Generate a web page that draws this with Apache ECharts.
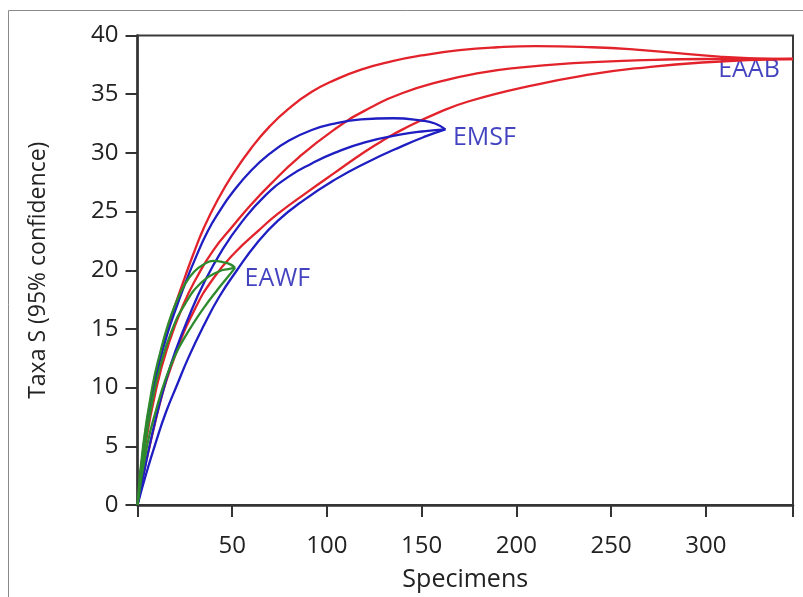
<!DOCTYPE html>
<html>
<head>
<meta charset="utf-8">
<script src="https://cdn.jsdelivr.net/npm/echarts@6/dist/echarts.min.js"></script>
<style>
html,body{margin:0;padding:0;background:#fff;}
#c{width:803px;height:597px;}
</style>
</head>
<body>
<div id="c"></div>
<script>
// EAAB (red): upper 95% bound, mean, lower 95% bound
const eaabUpper = [[0,0],[4,6],[8,9.8],[12,12.8],[16,15.1],[20,17.1],[25,19.4],[30,21.6],[35,23.6],[42,25.9],[50,28.1],[60,30.4],[70,32.3],[80,33.8],[92,35.2],[104,36.2],[118,37.1],[134,37.8],[150,38.3],[170,38.75],[190,39],[210,39.1],[240,39],[263,38.8],[285,38.5],[307,38.2],[325,38.05],[346,38]];
const eaabMean  = [[0,0],[4,5],[10,10],[16,13.5],[24,17],[32,19.6],[40,21.7],[50,23.7],[60,25.6],[70,27.3],[85,29.6],[104,32],[120,33.6],[140,35.1],[160,36.1],[180,36.8],[200,37.25],[230,37.65],[263,37.88],[300,38],[346,38]];
const eaabLower = [[0,0],[10,7.5],[20,12.8],[30,16.6],[40,19.3],[52,21.6],[64,23.4],[74,24.8],[90,26.7],[104,28.3],[120,30.1],[131,31.2],[140,32],[157,33.3],[175,34.4],[210,35.8],[240,36.7],[263,37.2],[298,37.7],[346,38]];
// EMSF (blue)
const emsfUpper = [[0,0],[4,5.8],[8,9.5],[12,12.4],[16,14.7],[20,16.6],[25,18.8],[30,20.8],[37,23.3],[44,25.2],[50,26.6],[60,28.5],[70,29.95],[80,31.05],[92,31.95],[104,32.5],[118,32.85],[135,32.95],[150,32.75],[157,32.5],[162.5,32]];
const emsfMean  = [[0,0],[5,4],[10,7.6],[15,10.6],[20,13.1],[27,16],[35,18.9],[45,21.8],[55,24.1],[67,26.3],[80,28],[92,29.1],[104,30],[120,30.9],[140,31.6],[152,31.85],[162.5,32]];
const emsfLower = [[0,0],[5,2.9],[10,5.5],[15,7.9],[20.8,10.2],[27,12.6],[34.7,15.2],[43,17.7],[52.5,20],[63,22.3],[74,24.2],[88,26],[104,27.7],[120,29.1],[140,30.6],[152,31.4],[162.5,32]];
// EAWF (green)
const eawfUpper = [[0,0],[3,5.1],[8,10.2],[12,13],[16,15.3],[20,17.1],[25,18.8],[30,19.9],[35,20.5],[40,20.8],[45,20.7],[49,20.5],[51.5,20.2]];
const eawfMean  = [[0,0],[4,5.2],[8,9],[12,11.8],[18,14.8],[25,17.1],[34,19],[43,19.9],[48,20.1],[51.5,20.2]];
const eawfLower = [[0,0],[5,5],[10,8.2],[15,10.8],[20,12.8],[25,14.3],[30,15.6],[35,16.8],[42,18.3],[47,19.3],[51.5,20.2]];
// curve labels
const labelNames = ['EAAB','EMSF','EAWF'];
const labelPos = [[306.5,37.1],[166.5,31.3],[56.5,19.3]];
const xTicks = [50,100,150,200,250,300];

const RED='#e3232b', BLUE='#1e1ec2', GREEN='#2d8b2d', LBL='#1414b0';
const chart = echarts.init(document.getElementById('c'));
function line(data,color,z){
  return {type:'line',data:data,smooth:0.5,showSymbol:false,symbol:'none',
    lineStyle:{color:color,width:2.3},z:z,silent:true,animation:false};
}
chart.setOption({
  animation:false,
  backgroundColor:'#fff',
  graphic:[{type:'rect',shape:{x:8.5,y:10.5,width:1000,height:1000},style:{fill:'none',stroke:'#8a8a8a',lineWidth:1},z:100}],
  grid:{left:137.5,right:10,top:35.5,bottom:90,show:true,borderColor:'#3a3a3a',borderWidth:2,backgroundColor:'#fff'},
  xAxis:{type:'value',min:0,max:346,interval:50,
    name:'Specimens',nameLocation:'middle',nameGap:62,
    nameTextStyle:{fontFamily:'Open Sans',fontSize:25,color:'#222'},
    axisLine:{lineStyle:{color:'#333',width:2.5}},
    axisTick:{length:12,lineStyle:{color:'#333',width:2}},
    splitLine:{show:false},
    axisLabel:{fontFamily:'Open Sans',fontSize:24,color:'#222',margin:29,
      formatter:function(v){return xTicks.indexOf(v)>=0?String(v):'';}}},
  yAxis:{type:'value',min:0,max:40,interval:5,
    name:'Taxa S (95% confidence)',nameLocation:'middle',nameGap:88,nameRotate:90,
    nameTextStyle:{fontFamily:'Open Sans',fontSize:23,color:'#222'},
    axisLine:{lineStyle:{color:'#333',width:2.5}},
    axisTick:{length:12,lineStyle:{color:'#333',width:2}},
    splitLine:{show:false},
    axisLabel:{fontFamily:'Open Sans',fontSize:24,color:'#222',margin:19}},
  series:[
    {type:'scatter',data:labelPos.map((p,i)=>({value:p,name:labelNames[i]})),symbolSize:0,z:1,silent:true,
      label:{show:true,position:'right',distance:0,formatter:'{b}',fontFamily:'Open Sans',fontSize:25,color:LBL}},
    line(eaabLower,RED,3),line(eaabMean,RED,3),line(eaabUpper,RED,3),
    line(emsfLower,BLUE,4),line(emsfMean,BLUE,4),line(emsfUpper,BLUE,4),
    line(eawfLower,GREEN,5),line(eawfMean,GREEN,5),line(eawfUpper,GREEN,5)
  ]
});
</script>
</body>
</html>
